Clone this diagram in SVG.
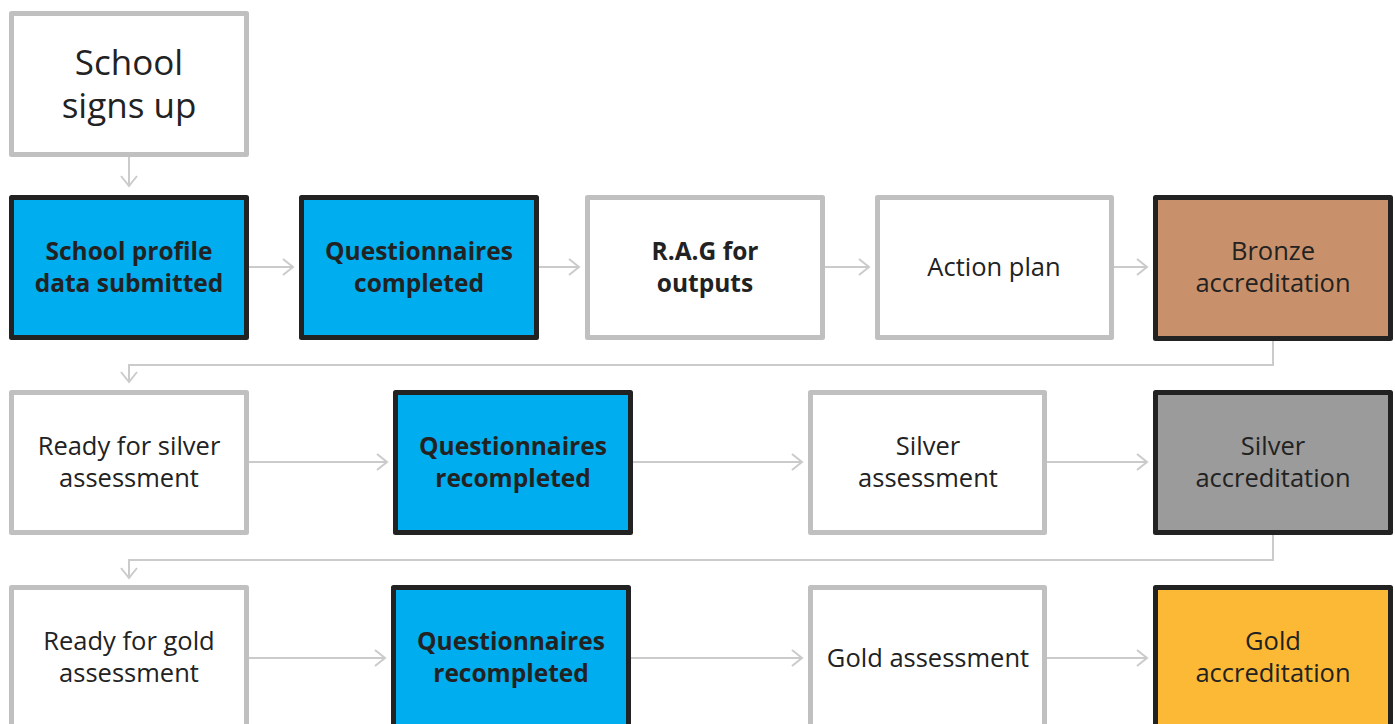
<svg xmlns="http://www.w3.org/2000/svg" width="1395" height="724" viewBox="0 0 1395 724">
<style>
.box{stroke-width:5;stroke-linejoin:round}
.plain{fill:#fff;stroke:#c0c0c0}
.blue{fill:#00adef;stroke:#222}
.bronze{fill:#c8916b;stroke:#222}
.silver{fill:#9b9b9b;stroke:#222}
.gold{fill:#fbb935;stroke:#222}
text{font-family:"Open Sans","Liberation Sans",sans-serif;font-size:25.5px;fill:#222;text-anchor:middle}
.b{font-weight:bold;font-size:24.5px}
.big{font-size:35px}
.conn{fill:none;stroke:#cbcbcb;stroke-width:2}
</style>
<defs>
<marker id="arr" markerUnits="userSpaceOnUse" markerWidth="14" markerHeight="20" refX="11" refY="10" orient="auto">
<path d="M1,2 L11,10 L1,18" fill="none" stroke="#cbcbcb" stroke-width="2"/>
</marker>
</defs>
<g id="connectors" class="conn">
<path d="M129,157 V186" marker-end="url(#arr)"/>
<path d="M249,267 H293" marker-end="url(#arr)"/>
<path d="M539,267 H579" marker-end="url(#arr)"/>
<path d="M825,267 H869" marker-end="url(#arr)"/>
<path d="M1114,267 H1147" marker-end="url(#arr)"/>
<path d="M1273,341 V365 H129 V382" marker-end="url(#arr)"/>
<path d="M249,462 H387" marker-end="url(#arr)"/>
<path d="M633,462 H802" marker-end="url(#arr)"/>
<path d="M1047,462 H1147" marker-end="url(#arr)"/>
<path d="M1273,535 V560 H129 V578" marker-end="url(#arr)"/>
<path d="M249,658 H385" marker-end="url(#arr)"/>
<path d="M631,658 H802" marker-end="url(#arr)"/>
<path d="M1047,658 H1147" marker-end="url(#arr)"/>
</g>
<g id="n1"><rect class="box plain" x="11.5" y="13.5" width="235" height="141"/>
<text class="big" x="129" y="75">School</text><text class="big" x="129" y="118">signs up</text></g>
<g id="n2"><rect class="box blue" x="11.5" y="197.5" width="235" height="140"/>
<text class="b" x="129" y="260">School profile</text><text class="b" x="129" y="292">data submitted</text></g>
<g id="n3"><rect class="box blue" x="301.5" y="197.5" width="235" height="140"/>
<text class="b" x="419" y="260">Questionnaires</text><text class="b" x="419" y="292">completed</text></g>
<g id="n4"><rect class="box plain" x="587.5" y="197.5" width="235" height="140"/>
<text class="b" x="705" y="260">R.A.G for</text><text class="b" x="705" y="292">outputs</text></g>
<g id="n5"><rect class="box plain" x="877.5" y="197.5" width="234" height="140"/>
<text x="994" y="276">Action plan</text></g>
<g id="n6"><rect class="box bronze" x="1155.5" y="197.5" width="235" height="141"/>
<text x="1273" y="260">Bronze</text><text x="1273" y="292">accreditation</text></g>
<g id="n7"><rect class="box plain" x="11.5" y="392.5" width="235" height="140"/>
<text x="129" y="455">Ready for silver</text><text x="129" y="487">assessment</text></g>
<g id="n8"><rect class="box blue" x="395.5" y="392.5" width="235" height="140"/>
<text class="b" x="513" y="455">Questionnaires</text><text class="b" x="513" y="487">recompleted</text></g>
<g id="n9"><rect class="box plain" x="810.5" y="392.5" width="234" height="140"/>
<text x="928" y="455">Silver</text><text x="928" y="487">assessment</text></g>
<g id="n10"><rect class="box silver" x="1155.5" y="392.5" width="235" height="140"/>
<text x="1273" y="455">Silver</text><text x="1273" y="487">accreditation</text></g>
<g id="n11"><rect class="box plain" x="11.5" y="587.5" width="235" height="140"/>
<text x="129" y="650">Ready for gold</text><text x="129" y="682">assessment</text></g>
<g id="n12"><rect class="box blue" x="393.5" y="587.5" width="235" height="140"/>
<text class="b" x="511" y="650">Questionnaires</text><text class="b" x="511" y="682">recompleted</text></g>
<g id="n13"><rect class="box plain" x="810.5" y="587.5" width="234" height="140"/>
<text x="928" y="667">Gold assessment</text></g>
<g id="n14"><rect class="box gold" x="1155.5" y="587.5" width="235" height="140"/>
<text x="1273" y="650">Gold</text><text x="1273" y="682">accreditation</text></g>
</svg>
